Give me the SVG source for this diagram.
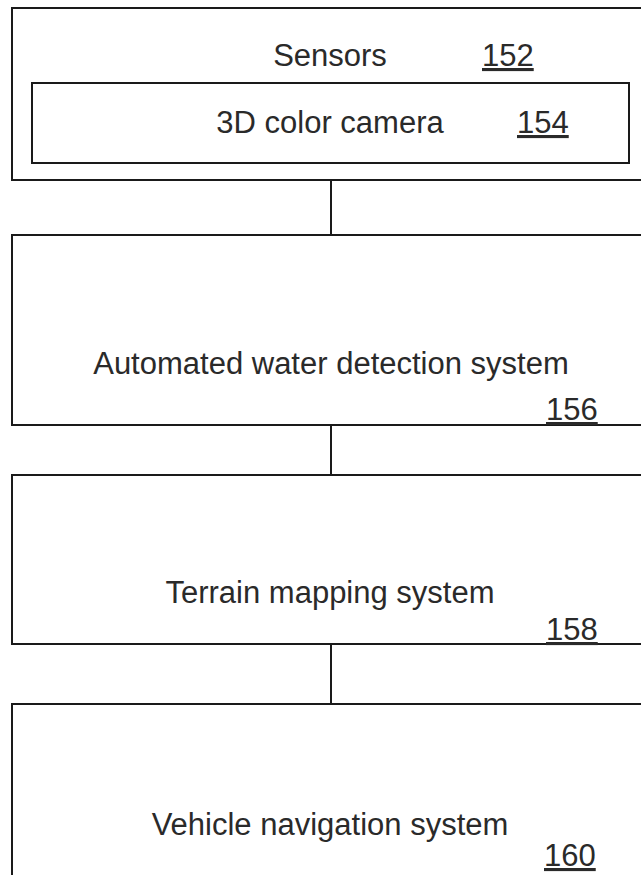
<svg xmlns="http://www.w3.org/2000/svg" width="641" height="875" viewBox="0 0 641 875">
<style>
.box{fill:none;stroke:#1a1a1a;stroke-width:2}
.ln{stroke:#1a1a1a;stroke-width:2}
.t{font-family:"Liberation Sans",Arial,sans-serif;font-size:31px;fill:#2a2a2a}
.m{text-anchor:middle}
.n{text-decoration:underline}
</style>
<rect width="641" height="875" fill="#ffffff"/>
<g id="connectors">
<line class="ln" x1="331" y1="180" x2="331" y2="235"/>
<line class="ln" x1="331" y1="425" x2="331" y2="475"/>
<line class="ln" x1="331" y1="644" x2="331" y2="704"/>
</g>
<g id="sensors">
<rect class="box" x="12" y="8" width="640" height="172"/>
<text class="t m" x="330" y="66">Sensors</text>
<text class="t n" x="482" y="66">152</text>
</g>
<g id="camera">
<rect class="box" x="32" y="83" width="597" height="80"/>
<text class="t m" x="330" y="133">3D color camera</text>
<text class="t n" x="517" y="133">154</text>
</g>
<g id="water">
<rect class="box" x="12" y="235" width="640" height="190"/>
<text class="t m" x="331" y="374">Automated water detection system</text>
<text class="t n" x="546" y="420">156</text>
</g>
<g id="terrain">
<rect class="box" x="12" y="475" width="640" height="169"/>
<text class="t m" x="330" y="603">Terrain mapping system</text>
<text class="t n" x="546" y="640">158</text>
</g>
<g id="navigation">
<rect class="box" x="12" y="704" width="640" height="190"/>
<text class="t m" x="330" y="835">Vehicle navigation system</text>
<text class="t n" x="544" y="866">160</text>
</g>
</svg>
